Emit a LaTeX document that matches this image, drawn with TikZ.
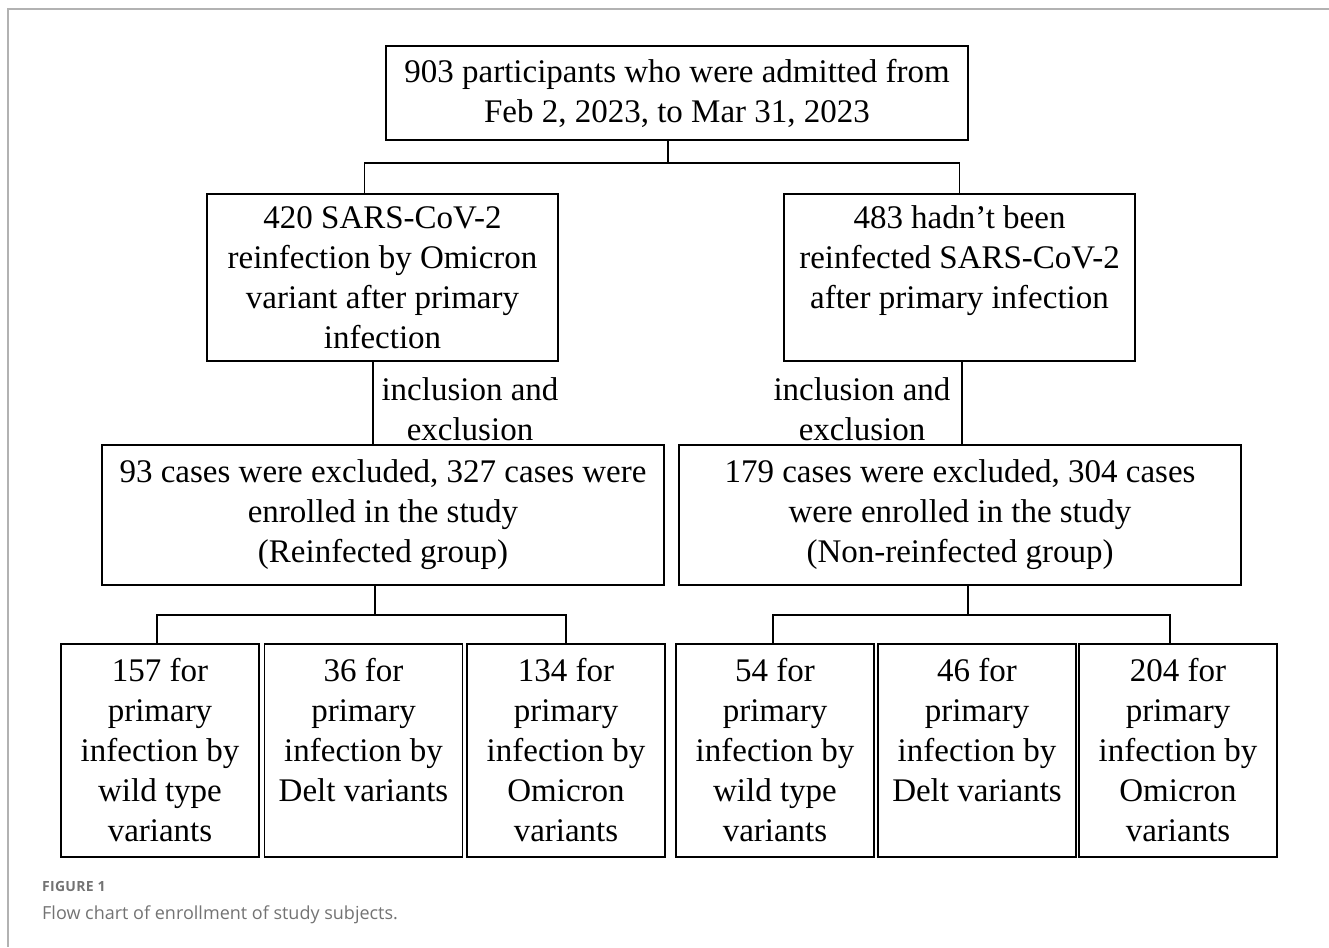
\documentclass[tikz,border=0pt]{standalone}
\usepackage{fontspec}
\setmainfont{Liberation Serif}
\newfontfamily\capfont{Open Sans}
\usepackage{xcolor}
\usepackage{tikz}
\usetikzlibrary{positioning,calc}
\definecolor{framegray}{RGB}{178,178,178}
\definecolor{capgray}{RGB}{115,115,115}
\tikzset{
  box/.style={draw, line width=1.8pt, inner sep=0pt, align=center,
    font=\fontsize{33}{40}\selectfont},
  lab/.style={inner sep=0pt, align=center, font=\fontsize{33}{40}\selectfont},
  link/.style={line width=1.8pt}
}

\begin{document}
\begin{tikzpicture}[x=1pt, y=-1pt]
\useasboundingbox (0,0) rectangle (1329,947);
\draw[framegray, line width=1.6pt] (1329,9) -- (8,9) -- (8,947);
% first level
\node[box, minimum width=582pt, minimum height=94pt] (top) at (677,93)
  {903 participants who were admitted from\\ Feb 2, 2023, to Mar 31, 2023};
\node[box, minimum width=351pt, minimum height=167pt] (l1) at (382.5,277.5)
  {420 SARS-CoV-2\\ reinfection by Omicron\\ variant after primary\\ infection};
\node[box, minimum width=351pt, minimum height=167pt] (r1) at (959.5,277.5)
  {483 hadn't been\\ reinfected SARS-CoV-2\\ after primary infection\\ \vphantom{infection}};
\node[lab] (incl) at (470,409) {inclusion and\\ exclusion};
\node[lab] (incr) at (862,409) {inclusion and\\ exclusion};
% groups
\node[box, minimum width=562pt, minimum height=140pt] (l2) at (383,515)
  {93 cases were excluded, 327 cases were\\ enrolled in the study\\ (Reinfected group)};
\node[box, minimum width=562pt, minimum height=140pt] (r2) at (960,515)
  {179 cases were excluded, 304 cases\\ were enrolled in the study\\ (Non-reinfected group)};
% primary infection
\node[box, minimum width=198pt, minimum height=213pt] (b1) at (160,750.5)
  {157 for\\ primary\\ infection by\\ wild type\\ variants};
\node[box, minimum width=198pt, minimum height=213pt] (b2) at (363.5,750.5)
  {36 for\\ primary\\ infection by\\ Delt variants\\ \vphantom{variants}};
\node[box, minimum width=198pt, minimum height=213pt] (b3) at (566,750.5)
  {134 for\\ primary\\ infection by\\ Omicron\\ variants};
\node[box, minimum width=198pt, minimum height=213pt] (b4) at (775,750.5)
  {54 for\\ primary\\ infection by\\ wild type\\ variants};
\node[box, minimum width=198pt, minimum height=213pt] (b5) at (977,750.5)
  {46 for\\ primary\\ infection by\\ Delt variants\\ \vphantom{variants}};
\node[box, minimum width=198pt, minimum height=213pt] (b6) at (1178,750.5)
  {204 for\\ primary\\ infection by\\ Omicron\\ variants};
% connectors
\draw[link] ([xshift=-9pt]top.south) -- ++(0,22) coordinate (jtop);
\draw[link] ([xshift=-18pt]l1.north) |- (jtop) -| (r1.north);
\draw[link] ([xshift=-9.5pt]l1.south) -- ([xshift=-9.5pt]l1.south |- l2.north);
\draw[link] ([xshift=2.5pt]r1.south) -- ([xshift=2.5pt]r1.south |- r2.north);
\draw[link] ([xshift=-8pt]l2.south) -- ++(0,29) coordinate (jl);
\draw[link] ([xshift=-3pt]b1.north) |- (jl) -| (b3.north);
\draw[link] ([xshift=8pt]r2.south) -- ++(0,29) coordinate (jr);
\draw[link] ([xshift=-2pt]b4.north) |- (jr) -| ([xshift=-8pt]b6.north);
% caption
\node[anchor=base west, inner sep=0pt, text=capgray, font=\capfont\bfseries\fontsize{14}{17}\selectfont\addfontfeatures{LetterSpace=2}] (fig) at (42,891) {FIGURE 1};
\node[anchor=base west, inner sep=0pt, text=capgray, font=\capfont\fontsize{18}{21}\selectfont] (cap) at (42,919) {Flow chart of enrollment of study subjects.};
\end{tikzpicture}
\end{document}
